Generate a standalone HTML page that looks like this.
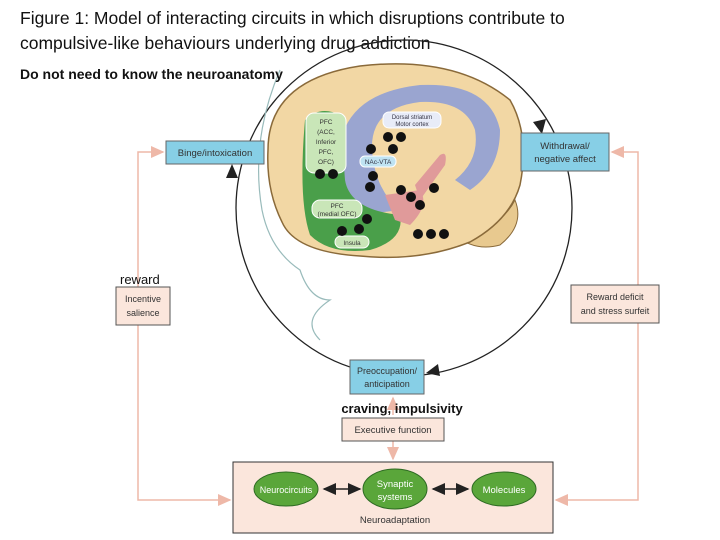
<!DOCTYPE html>
<html><head><style>
body{margin:0;background:#fff;}
svg{display:block;font-family:"Liberation Sans",Arial,sans-serif;}
</style></head><body>
<svg width="720" height="540" viewBox="0 0 720 540" xmlns="http://www.w3.org/2000/svg">
<defs>
<marker id="ab" markerWidth="10" markerHeight="10" refX="8" refY="5" orient="auto-start-reverse"><path d="M0,1 L9,5 L0,9 z" fill="#222"/></marker>
<marker id="ap" markerWidth="10" markerHeight="10" refX="8" refY="5" orient="auto-start-reverse"><path d="M0,1 L9,5 L0,9 z" fill="#eeb8a8"/></marker>
</defs>
<text x="20" y="24" font-size="17.5" fill="#111">Figure 1: Model of interacting circuits in which disruptions contribute to</text>
<text x="20" y="49" font-size="17.5" fill="#111">compulsive-like behaviours underlying drug addiction</text>

<!-- pink connectors -->
<path d="M230,500 L138,500 L138,152 L163,152" fill="none" stroke="#eeb8a8" stroke-width="1.5" marker-end="url(#ap)" marker-start="url(#ap)"/>
<path d="M556,500 L638,500 L638,152 L612,152" fill="none" stroke="#eeb8a8" stroke-width="1.5" marker-end="url(#ap)" marker-start="url(#ap)"/>
<path d="M393,415 L393,398" stroke="#eeb8a8" stroke-width="1.5" marker-end="url(#ap)"/>
<path d="M393,441 L393,459" stroke="#eeb8a8" stroke-width="1.5" marker-end="url(#ap)"/>

<!-- big circle -->
<circle cx="404" cy="208" r="168" fill="none" stroke="#222" stroke-width="1.3"/>
<path d="M226,178 L232,164 L238,178z" fill="#222"/>
<path d="M533,122 L542,134 L546,119z" fill="#222"/>
<path d="M438,364 L426,373 L440,376z" fill="#222"/>

<!-- head outline -->
<path d="M280,70 Q250,140 262,210 Q270,250 300,270 Q310,300 330,300 Q300,320 320,340" fill="none" stroke="#9bb" stroke-width="1.2"/>

<!-- brain -->
<path d="M455,235 Q500,230 515,200 Q525,225 500,245 Q475,252 455,235z" fill="#e8c98f" stroke="#8a6a3a"/>
<path d="M268,150 Q268,80 360,66 Q455,55 510,100 Q530,135 520,185 Q510,220 470,242 Q420,262 360,256 Q295,252 282,222 Q266,190 268,150z" fill="#f2d7a4" stroke="#8a6a3a" stroke-width="1.5"/>
<path d="M340,175 Q330,95 420,85 Q490,82 500,130 Q500,170 470,190 L455,180 Q480,160 475,130 Q465,100 420,102 Q370,108 372,150 Q375,190 400,210 L360,215 Q343,200 340,175z" fill="#8b9cd8" opacity="0.85"/>
<path d="M305,120 Q320,105 340,115 L345,180 Q350,210 400,215 Q405,240 370,250 Q330,255 310,235 Q298,200 305,120z" fill="#4a9f4a"/>
<rect x="306" y="113" width="40" height="60" rx="8" fill="#c9e6b8" stroke="#fff"/>
<text x="326" y="124" font-size="6.5" text-anchor="middle" fill="#333">PFC</text>
<text x="326" y="134" font-size="6.5" text-anchor="middle" fill="#333">(ACC,</text>
<text x="326" y="144" font-size="6.5" text-anchor="middle" fill="#333">Inferior</text>
<text x="326" y="154" font-size="6.5" text-anchor="middle" fill="#333">PFC,</text>
<text x="326" y="164" font-size="6.5" text-anchor="middle" fill="#333">OFC)</text>
<rect x="312" y="200" width="50" height="18" rx="8" fill="#c9e6b8" stroke="#fff"/>
<text x="337" y="208" font-size="6.5" text-anchor="middle" fill="#333">PFC</text>
<text x="337" y="216" font-size="6.5" text-anchor="middle" fill="#333">(medial OFC)</text>
<rect x="335" y="236" width="34" height="12" rx="6" fill="#c9e6b8" stroke="#fff"/>
<text x="352" y="245" font-size="6.5" text-anchor="middle" fill="#333">Insula</text>
<rect x="383" y="112" width="58" height="16" rx="6" fill="#e8ecf8" stroke="#fff"/>
<text x="412" y="119" font-size="6" text-anchor="middle" fill="#334">Dorsal striatum</text>
<text x="412" y="126" font-size="6" text-anchor="middle" fill="#334">Motor cortex</text>
<rect x="360" y="156" width="36" height="11" rx="5" fill="#bfe3f2" stroke="#fff"/>
<text x="378" y="164" font-size="6.5" text-anchor="middle" fill="#334">NAc-VTA</text>
<path d="M415,185 L440,155 Q448,150 445,165 L420,200z" fill="#e09a9a"/>
<path d="M385,195 L420,190 Q430,205 410,225 L395,220z" fill="#e09a9a"/>
<g fill="#111">
<circle cx="388" cy="137" r="5"/><circle cx="401" cy="137" r="5"/>
<circle cx="371" cy="149" r="5"/><circle cx="393" cy="149" r="5"/>
<circle cx="373" cy="176" r="5"/><circle cx="370" cy="187" r="5"/>
<circle cx="320" cy="174" r="5"/><circle cx="333" cy="174" r="5"/>
<circle cx="401" cy="190" r="5"/><circle cx="411" cy="197" r="5"/><circle cx="420" cy="205" r="5"/>
<circle cx="434" cy="188" r="5"/>
<circle cx="367" cy="219" r="5"/><circle cx="359" cy="229" r="5"/><circle cx="342" cy="231" r="5"/>
<circle cx="418" cy="234" r="5"/><circle cx="431" cy="234" r="5"/><circle cx="444" cy="234" r="5"/>
</g>

<text x="20" y="79" font-size="14" font-weight="bold" fill="#111">Do not need to know the neuroanatomy</text>

<rect x="166" y="141" width="98" height="23" fill="#87cfe6" stroke="#666"/>
<text x="215" y="156" font-size="9.5" text-anchor="middle" fill="#333">Binge/intoxication</text>
<rect x="521" y="133" width="88" height="38" fill="#87cfe6" stroke="#666"/>
<text x="565" y="149" font-size="9.5" text-anchor="middle" fill="#333">Withdrawal/</text>
<text x="565" y="162" font-size="9.5" text-anchor="middle" fill="#333">negative affect</text>
<rect x="350" y="360" width="74" height="34" fill="#87cfe6" stroke="#666"/>
<text x="387" y="374" font-size="9" text-anchor="middle" fill="#333">Preoccupation/</text>
<text x="387" y="387" font-size="9" text-anchor="middle" fill="#333">anticipation</text>

<text x="120" y="284" font-size="13" fill="#111">reward</text>
<rect x="116" y="287" width="54" height="38" fill="#fbe6dc" stroke="#555"/>
<text x="143" y="302" font-size="9" text-anchor="middle" fill="#333">Incentive</text>
<text x="143" y="316" font-size="9" text-anchor="middle" fill="#333">salience</text>
<rect x="571" y="285" width="88" height="38" fill="#fbe6dc" stroke="#555"/>
<text x="615" y="300" font-size="9" text-anchor="middle" fill="#333">Reward deficit</text>
<text x="615" y="314" font-size="9" text-anchor="middle" fill="#333">and stress surfeit</text>

<text x="402" y="413" font-size="13" font-weight="bold" text-anchor="middle" fill="#111">craving, impulsivity</text>
<rect x="342" y="418" width="102" height="23" fill="#fbe6dc" stroke="#555"/>
<text x="393" y="433" font-size="9.5" text-anchor="middle" fill="#333">Executive function</text>

<rect x="233" y="462" width="320" height="71" fill="#fbe6dc" stroke="#333"/>
<ellipse cx="286" cy="489" rx="32" ry="17" fill="#5aa63a" stroke="#2d6a22"/>
<text x="286" y="493" font-size="9" text-anchor="middle" fill="#fff">Neurocircuits</text>
<ellipse cx="395" cy="489" rx="32" ry="20" fill="#5aa63a" stroke="#2d6a22"/>
<text x="395" y="487" font-size="9.5" text-anchor="middle" fill="#fff">Synaptic</text>
<text x="395" y="500" font-size="9.5" text-anchor="middle" fill="#fff">systems</text>
<ellipse cx="504" cy="489" rx="32" ry="17" fill="#5aa63a" stroke="#2d6a22"/>
<text x="504" y="493" font-size="9.5" text-anchor="middle" fill="#fff">Molecules</text>
<text x="395" y="523" font-size="9.5" text-anchor="middle" fill="#333">Neuroadaptation</text>
<path d="M324,489 L360,489" stroke="#222" stroke-width="1.5" marker-end="url(#ab)" marker-start="url(#ab)"/>
<path d="M433,489 L468,489" stroke="#222" stroke-width="1.5" marker-end="url(#ab)" marker-start="url(#ab)"/>
</svg>
</body></html>
